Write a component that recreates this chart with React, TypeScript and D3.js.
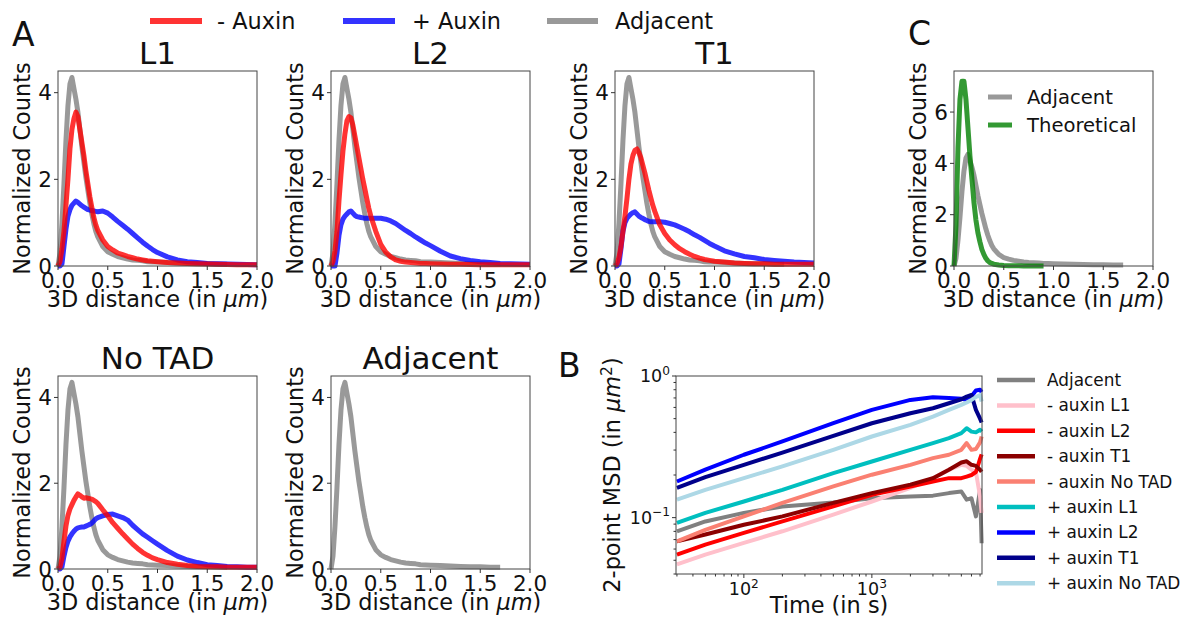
import React from "react";
import * as d3 from "d3";

// distance grid (um), shared by all histogram curves
const dist = [
  0, 0.02, 0.04, 0.06, 0.08, 0.1, 0.12, 0.14, 0.16, 0.18, 0.2, 0.22, 0.24, 0.26, 0.28, 0.3, 0.32, 0.34, 0.36, 0.38, 0.4,
  0.45, 0.5, 0.55, 0.6, 0.65, 0.7, 0.75, 0.8, 0.85, 0.9, 0.95, 1.0,
  1.1, 1.2, 1.3, 1.4, 1.5, 1.6, 1.7, 1.8, 1.9, 2.0,
];

const adjacent = [
  0, 0.3, 1.0, 1.9, 2.9, 3.7, 4.2, 4.35, 4.1, 3.85, 3.55, 3.15, 2.75, 2.4, 2.05, 1.75, 1.45, 1.2, 0.98, 0.8, 0.67,
  0.45, 0.33, 0.27, 0.22, 0.19, 0.16, 0.14, 0.13, 0.12, 0.1, 0.095, 0.09,
  0.08, 0.07, 0.06, 0.05, 0.05, 0.04, 0.04, null, null, null,
];

const minusL1 = [
  0, 0.1, 0.4, 0.8, 1.4, 2.0, 2.7, 3.15, 3.4, 3.55, 3.45, 3.15, 2.85, 2.55, 2.2, 1.9, 1.6, 1.35, 1.12, 0.95, 0.82,
  0.6, 0.45, 0.37, 0.3, 0.26, 0.22, 0.19, 0.16, 0.14, 0.12, 0.11, 0.1,
  0.08, 0.07, 0.06, 0.05, 0.045, 0.04, 0.035, 0.03, 0.03, 0.03,
];
const plusL1 = [
  0, 0, 0.05, 0.45, 0.85, 1.15, 1.3, 1.4, 1.45, 1.5, 1.47, 1.43, 1.39, 1.36, 1.33, 1.3, 1.29, 1.28, 1.27, 1.26, 1.25,
  1.27, 1.22, 1.13, 1.03, 0.94, 0.85, 0.75, 0.65, 0.55, 0.46, 0.38, 0.31,
  0.21, 0.14, 0.1, 0.08, 0.06, 0.05, 0.045, 0.04, 0.035, 0.03,
];

const minusL2 = [
  0, 0.1, 0.35, 0.8, 1.5, 2.1, 2.65, 3.05, 3.35, 3.45, 3.42, 3.25, 3.0, 2.75, 2.5, 2.25, 2.0, 1.78, 1.55, 1.33, 1.15,
  0.8, 0.5, 0.32, 0.21, 0.14, 0.11, 0.09, 0.08, 0.07, 0.06, 0.055, 0.05,
  0.045, 0.04, 0.04, 0.035, 0.03, 0.03, 0.03, 0.03, 0.03, 0.03,
];
const plusL2 = [
  0, 0, 0, 0.3, 0.7, 0.95, 1.08, 1.15, 1.2, 1.25, 1.27, 1.22, 1.17, 1.14, 1.13, 1.12, 1.11, 1.1, 1.1, 1.1, 1.1,
  1.1, 1.1, 1.08, 1.04, 0.98, 0.9, 0.82, 0.75, 0.67, 0.6, 0.53, 0.47,
  0.34, 0.23, 0.17, 0.13, 0.1, 0.08, 0.06, 0.05, 0.045, 0.04,
];

const minusT1 = [
  0, 0.05, 0.2, 0.45, 0.8, 1.15, 1.55, 2.0, 2.35, 2.55, 2.67, 2.7, 2.62, 2.5, 2.32, 2.15, 1.95, 1.75, 1.57, 1.4, 1.26,
  0.95, 0.75, 0.6, 0.49, 0.4, 0.33, 0.27, 0.22, 0.18, 0.15, 0.13, 0.11,
  0.09, 0.07, 0.06, 0.05, 0.05, 0.04, 0.04, 0.04, 0.04, 0.04,
];
const plusT1 = [
  0, 0, 0.05, 0.4, 0.8, 1.0, 1.1, 1.15, 1.2, 1.23, 1.25, 1.2, 1.15, 1.12, 1.1, 1.07, 1.05, 1.03, 1.02, 1.02, 1.02,
  1.02, 1.01, 0.98, 0.95, 0.9, 0.85, 0.79, 0.72, 0.66, 0.59, 0.52, 0.46,
  0.35, 0.28, 0.22, 0.19, 0.15, 0.13, 0.11, 0.09, 0.08, 0.07,
];

const minusNoTAD = [
  0, 0.05, 0.25, 0.65, 1.0, 1.25, 1.4, 1.5, 1.6, 1.68, 1.75, 1.72, 1.68, 1.65, 1.66, 1.65, 1.64, 1.63, 1.6, 1.57, 1.53,
  1.38, 1.24, 1.08, 0.95, 0.82, 0.7, 0.58, 0.48, 0.39, 0.32, 0.26, 0.22,
  0.15, 0.11, 0.08, 0.06, 0.05, 0.05, 0.04, 0.04, 0.04, 0.04,
];
const plusNoTAD = [
  0, 0, 0.05, 0.3, 0.5, 0.65, 0.75, 0.82, 0.88, 0.93, 0.96, 0.97, 0.98, 0.98, 1.0, 1.02, 1.04, 1.07, 1.12, 1.17, 1.2,
  1.24, 1.27, 1.28, 1.24, 1.2, 1.14, 1.02, 0.92, 0.82, 0.74, 0.66, 0.58,
  0.43, 0.3, 0.21, 0.15, 0.1, 0.08, 0.06, 0.05, 0.04, 0.04,
];

const theoretical = [
  0, 1.6, 4.6, 6.5, 7.2, 7.2, 6.5, 5.4, 4.3, 3.4, 2.5, 1.8, 1.3, 0.95, 0.65, 0.45, 0.3, 0.2, 0.14, 0.1, 0.07,
  0.04, 0.02, 0.01, 0.01, 0.005, 0, 0, 0, 0, 0, null, null,
  null, null, null, null, null, null, null, null, null, null,
];

const distTicks = [0, 0.5, 1.0, 1.5, 2.0];

// panel B: 2-point MSD vs time
const msdTime = [30, 50, 100, 200, 500, 1000, 2000, 3000, 4000, 5000, 5500, 6000, 6500, 7000, 7200];
const msdAdjacent = [0.08, 0.094, 0.108, 0.12, 0.128, 0.137, 0.141, 0.143, 0.149, 0.153, 0.134, 0.137, 0.102, 0.157, 0.066];
const msdMinusL1 = [0.0467, 0.0548, 0.0663, 0.0801, 0.105, 0.13, 0.162, 0.19, 0.218, 0.236, 0.232, 0.218, 0.21, 0.141, 0.108];
const msdMinusL2 = [0.0548, 0.0645, 0.078, 0.094, 0.12, 0.145, 0.166, 0.18, 0.19, 0.19, 0.195, 0.2, 0.21, 0.26, 0.28];
const msdMinusT1 = [0.068, 0.076, 0.089, 0.102, 0.127, 0.149, 0.171, 0.19, 0.218, 0.245, 0.25, 0.236, 0.232, 0.218, 0.21];
const msdMinusNoTAD = [0.068, 0.082, 0.102, 0.127, 0.166, 0.201, 0.236, 0.263, 0.278, 0.301, 0.336, 0.301, 0.305, 0.34, 0.374];
const msdPlusL1 = [0.0917, 0.108, 0.13, 0.157, 0.206, 0.249, 0.301, 0.336, 0.364, 0.395, 0.428, 0.405, 0.4, 0.417, 0.405];
const msdPlusL2 = [0.18, 0.218, 0.278, 0.345, 0.464, 0.576, 0.678, 0.708, 0.7, 0.69, 0.68, 0.72, 0.79, 0.8, 0.77];
const msdPlusT1 = [0.162, 0.193, 0.236, 0.288, 0.378, 0.464, 0.546, 0.592, 0.642, 0.685, 0.715, 0.735, 0.576, 0.5, 0.47];
const msdPlusNoTAD = [0.134, 0.157, 0.19, 0.23, 0.301, 0.374, 0.452, 0.517, 0.576, 0.625, 0.65, 0.678, 0.71, 0.735, 0.66];

const msdNames = [
  "Adjacent", "- auxin L1", "- auxin L2", "- auxin T1", "- auxin No TAD",
  "+ auxin L1", "+ auxin L2", "+ auxin T1", "+ auxin No TAD",
];
const msdColors = [
  "#808080", "#ffc0cb", "#ff0000", "#8b0000", "#fa8072",
  "#00bfbf", "#0000ff", "#00008b", "#add8e6",
];
const msdSeries = [
  msdAdjacent, msdMinusL1, msdMinusL2, msdMinusT1, msdMinusNoTAD,
  msdPlusL1, msdPlusL2, msdPlusT1, msdPlusNoTAD,
];

const RED = "red";
const BLUE = "blue";
const GRAY = "gray";
const GREEN = "green";
const FONT = "DejaVu Sans";
const TICK_FS = 21.5;
const LABEL_FS = 22.4;

type Curve = { values: (number | null)[]; color: string };

function Hist(props: {
  x0: number; y0: number; w: number; h: number;
  title?: string; curves: Curve[]; yMax: number; yTicks: number[];
}) {
  const { x0, y0, w, h, title, curves, yMax, yTicks } = props;
  const x = d3.scaleLinear().domain([0, 2]).range([x0, x0 + w]);
  const y = d3.scaleLinear().domain([0, yMax]).range([y0 + h, y0]);
  const line = d3
    .line<[number, number | null]>()
    .defined((d) => d[1] != null)
    .x((d) => x(d[0]))
    .y((d) => y(d[1] as number));

  return (
    <g>
      {curves.map((c, i) => (
        <path
          key={i}
          d={line(dist.map((dv, j) => [dv, c.values[j]])) || ""}
          fill="none"
          stroke={c.color}
          strokeOpacity={0.8}
          strokeWidth={5}
          strokeLinejoin="round"
        />
      ))}
      <rect x={x0} y={y0} width={w} height={h} fill="none" stroke="#444" strokeWidth={1} />
      {distTicks.map((t) => (
        <g key={t}>
          <line x1={x(t)} x2={x(t)} y1={y0 + h} y2={y0 + h + 4} stroke="#333" />
          <text x={x(t)} y={y0 + h + 22} textAnchor="middle" fontSize={TICK_FS} fill="#111">
            {t.toFixed(1)}
          </text>
        </g>
      ))}
      {yTicks.map((t) => (
        <g key={t}>
          <line x1={x0 - 4} x2={x0} y1={y(t)} y2={y(t)} stroke="#333" />
          <text x={x0 - 6} y={y(t) + 7.5} textAnchor="end" fontSize={TICK_FS} fill="#111">
            {t}
          </text>
        </g>
      ))}
      <text x={x0 + w / 2} y={y0 + h + 41} textAnchor="middle" fontSize={LABEL_FS} fill="#111">
        3D distance (in <tspan fontStyle="italic">μm</tspan>)
      </text>
      <text
        transform={`translate(${x0 - 28},${y0 + h / 2}) rotate(-90)`}
        textAnchor="middle"
        fontSize={LABEL_FS}
        fill="#111"
      >
        Normalized Counts
      </text>
      {title && (
        <text x={x0 + w / 2} y={y0 - 7} textAnchor="middle" fontSize={31} fill="#111">
          {title}
        </text>
      )}
    </g>
  );
}

function MsdPanel() {
  const x0 = 676, x1 = 982, y0 = 376, y1 = 574;
  const x = d3.scaleLog().domain([29.5, 7250]).range([x0, x1]);
  const y = d3.scaleLog().domain([0.04, 1]).range([y1, y0]);
  const line = d3
    .line<number>()
    .x((d, i) => x(msdTime[i]))
    .y((d) => y(d));
  const xMinor = [30, 40, 50, 60, 70, 80, 90, 200, 300, 400, 500, 600, 700, 800, 900, 2000, 3000, 4000, 5000, 6000, 7000];
  const yMinor = [0.04, 0.05, 0.06, 0.07, 0.08, 0.09, 0.2, 0.3, 0.4, 0.5, 0.6, 0.7, 0.8, 0.9];
  return (
    <g>
      <defs>
        <clipPath id="msdclip">
          <rect x={x0} y={y0 - 10} width={x1 - x0 + 2} height={y1 - y0 + 10} />
        </clipPath>
      </defs>
      <g clipPath="url(#msdclip)">
        {msdSeries.map((s, i) => (
          <path
            key={i}
            d={line(s) || ""}
            fill="none"
            stroke={msdColors[i]}
            strokeWidth={4}
            strokeLinejoin="round"
          />
        ))}
      </g>
      <rect x={x0} y={y0} width={x1 - x0} height={y1 - y0} fill="none" stroke="#444" />
      {xMinor.map((t) => (
        <line key={t} x1={x(t)} x2={x(t)} y1={y1} y2={y1 + 2.5} stroke="#333" />
      ))}
      {yMinor.map((t) => (
        <line key={t} x1={x0 - 2.5} x2={x0} y1={y(t)} y2={y(t)} stroke="#333" />
      ))}
      {[100, 1000].map((t) => (
        <g key={t}>
          <line x1={x(t)} x2={x(t)} y1={y1} y2={y1 + 4} stroke="#333" />
          <text x={x(t)} y={y1 + 21} textAnchor="middle" fontSize={17.5} fill="#111">
            10<tspan dy={-7.5} fontSize={12.2}>{Math.round(Math.log10(t))}</tspan>
          </text>
        </g>
      ))}
      {[0.1, 1].map((t) => (
        <g key={t}>
          <line x1={x0 - 4} x2={x0} y1={y(t)} y2={y(t)} stroke="#333" />
          <text x={x0 - 6} y={y(t) + 6} textAnchor="end" fontSize={17.5} fill="#111">
            10<tspan dy={-7.5} fontSize={12.2}>{t === 1 ? "0" : "−1"}</tspan>
          </text>
        </g>
      ))}
      <text x={(x0 + x1) / 2} y={y1 + 39} textAnchor="middle" fontSize={LABEL_FS} fill="#111">
        Time (in s)
      </text>
      <text
        transform={`translate(620,${(y0 + y1) / 2}) rotate(-90)`}
        textAnchor="middle"
        fontSize={LABEL_FS}
        fill="#111"
      >
        2-point MSD (in <tspan fontStyle="italic">μm</tspan>
        <tspan dy={-8} fontSize={15.5}>2</tspan>
        <tspan dy={8}>)</tspan>
      </text>
      {msdNames.map((n, i) => (
        <g key={n}>
          <line x1={997} x2={1035} y1={380 + i * 25.4} y2={380 + i * 25.4} stroke={msdColors[i]} strokeWidth={4.5} />
          <text x={1047} y={386 + i * 25.4} fontSize={16.9} fill="#111">
            {n}
          </text>
        </g>
      ))}
    </g>
  );
}

export default function App() {
  const topTicks = [0, 2, 4];
  return (
    <svg
      width={1188}
      height={626}
      style={{ position: "absolute", left: 0, top: 0, background: "#fff" }}
      fontFamily={FONT}
    >
      <rect width={1188} height={626} fill="#fff" />

      {/* figure legend */}
      <line x1={150} x2={202} y1={21} y2={21} stroke={RED} strokeOpacity={0.8} strokeWidth={6} />
      <text x={217} y={29} fontSize={LABEL_FS} fill="#111">- Auxin</text>
      <line x1={343} x2={395} y1={21} y2={21} stroke={BLUE} strokeOpacity={0.8} strokeWidth={6} />
      <text x={412} y={29} fontSize={LABEL_FS} fill="#111">+ Auxin</text>
      <line x1={547} x2={598} y1={21} y2={21} stroke={GRAY} strokeOpacity={0.8} strokeWidth={6} />
      <text x={615} y={29} fontSize={LABEL_FS} fill="#111">Adjacent</text>

      <text x={12} y={46} fontSize={33} fill="#111">A</text>
      <text x={558} y={377} fontSize={33} fill="#111">B</text>
      <text x={908} y={45} fontSize={33} fill="#111">C</text>

      <Hist x0={58} y0={71} w={199} h={195} title="L1" yMax={4.5} yTicks={topTicks}
        curves={[{ values: adjacent, color: GRAY }, { values: plusL1, color: BLUE }, { values: minusL1, color: RED }]} />
      <Hist x0={331} y0={71} w={199} h={195} title="L2" yMax={4.5} yTicks={topTicks}
        curves={[{ values: adjacent, color: GRAY }, { values: plusL2, color: BLUE }, { values: minusL2, color: RED }]} />
      <Hist x0={615} y0={71} w={199} h={195} title="T1" yMax={4.5} yTicks={topTicks}
        curves={[{ values: adjacent, color: GRAY }, { values: plusT1, color: BLUE }, { values: minusT1, color: RED }]} />
      <Hist x0={58} y0={376} w={199} h={193} title="No TAD" yMax={4.5} yTicks={topTicks}
        curves={[{ values: adjacent, color: GRAY }, { values: plusNoTAD, color: BLUE }, { values: minusNoTAD, color: RED }]} />
      <Hist x0={331} y0={376} w={199} h={193} title="Adjacent" yMax={4.5} yTicks={topTicks}
        curves={[{ values: adjacent, color: GRAY }]} />
      <Hist x0={954} y0={71} w={199} h={195} yMax={7.6} yTicks={[0, 2, 4, 6]}
        curves={[{ values: adjacent, color: GRAY }, { values: theoretical, color: GREEN }]} />

      {/* panel C legend */}
      <line x1={988} x2={1012} y1={97} y2={97} stroke={GRAY} strokeOpacity={0.8} strokeWidth={5} />
      <text x={1027} y={104} fontSize={19.6} fill="#111">Adjacent</text>
      <line x1={988} x2={1012} y1={125} y2={125} stroke={GREEN} strokeOpacity={0.8} strokeWidth={5} />
      <text x={1027} y={132} fontSize={19.6} fill="#111">Theoretical</text>

      <MsdPanel />
    </svg>
  );
}
